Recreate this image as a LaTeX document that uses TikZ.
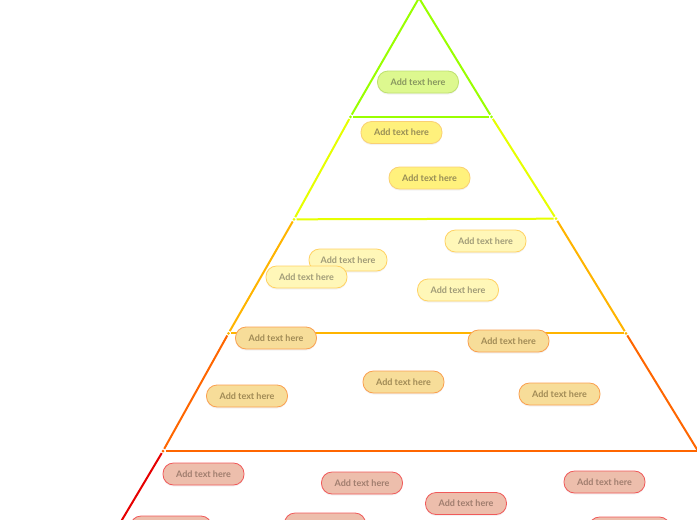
\documentclass[tikz,border=0pt]{standalone}
\usepackage{fontspec}
\setmainfont{Lato}
\usetikzlibrary{shadows}
\definecolor{lineone}{HTML}{99FF00}
\definecolor{linetwo}{HTML}{E6FF00}
\definecolor{linethree}{HTML}{FFB400}
\definecolor{linefour}{HTML}{FF6600}
\definecolor{linefive}{HTML}{E60000}
\tikzset{
    bubble/.style={draw, line width=0.8pt, rounded corners=10.5pt, minimum width=81pt,
        minimum height=22pt, inner sep=0pt, font=\fontsize{9}{11}\selectfont\bfseries,
        drop shadow={shadow xshift=0pt, shadow yshift=-1.5pt, opacity=0.1}},
    bubbleone/.style={bubble, draw=color1b, fill=color1f, text=color1t},
    bubbletwo/.style={bubble, draw=color2b, fill=color2f, text=color2t},
    bubblethree/.style={bubble, draw=color3b, fill=color3f, text=color3t},
    bubblefour/.style={bubble, draw=color4b, fill=color4f, text=color4t},
    bubblefive/.style={bubble, draw=color5b, fill=color5f, text=color5t},
    joint/.style={circle, inner sep=0pt, minimum size=3pt, outer sep=1pt},
    edge/.style={line width=2pt}
}
\definecolor{color1f}{HTML}{DDF88F}
\definecolor{color1b}{HTML}{BEE16E}
\definecolor{color1t}{HTML}{87965F}
\definecolor{color2f}{HTML}{FFF17C}
\definecolor{color2b}{HTML}{FAD072}
\definecolor{color2t}{HTML}{968C55}
\definecolor{color3f}{HTML}{FFF7B8}
\definecolor{color3b}{HTML}{FFD264}
\definecolor{color3t}{HTML}{A09B78}
\definecolor{color4f}{HTML}{F7DD99}
\definecolor{color4b}{HTML}{FAA050}
\definecolor{color4t}{HTML}{A08A55}
\definecolor{color5f}{HTML}{EDBEAC}
\definecolor{color5b}{HTML}{F05A5A}
\definecolor{color5t}{HTML}{A07D6E}

\begin{document}
\begin{tikzpicture}[x=1pt, y=-1pt]
    \useasboundingbox (0,0) rectangle (697,520);

    \coordinate (apex) at (419,-2);
    \node[joint, fill=lineone] (leftone) at (350.5,116.8) {};
    \node[joint, fill=lineone] (rightone) at (491.5,116.8) {};
    \node[joint, fill=linetwo] (lefttwo) at (294,219.3) {};
    \node[joint, fill=linetwo] (righttwo) at (556,218.7) {};
    \node[joint, fill=linethree] (leftthree) at (228.5,333.3) {};
    \node[joint, fill=linethree] (rightthree) at (626,333.3) {};
    \node[joint, fill=linefour] (leftfour) at (163,451) {};
    \coordinate (rightfour) at (698,451);
    \coordinate (leftfive) at (110,540);

    \draw[edge, lineone] (apex) -- (leftone);
    \draw[edge, lineone] (apex) -- (rightone);
    \draw[edge, lineone] (leftone) -- (rightone);
    \draw[edge, linetwo] (leftone) -- (lefttwo);
    \draw[edge, linetwo] (rightone) -- (righttwo);
    \draw[edge, linetwo] (lefttwo) -- (righttwo);
    \draw[edge, linethree] (lefttwo) -- (leftthree);
    \draw[edge, linethree] (righttwo) -- (rightthree);
    \draw[edge, linethree] (leftthree) -- (rightthree);
    \draw[edge, linefour] (leftthree) -- (leftfour);
    \draw[edge, linefour] (rightthree) -- (rightfour);
    \draw[edge, linefour] (leftfour) -- (rightfour);
    \draw[edge, linefive] (leftfour) -- (leftfive);

    \node[bubbleone] (topic) at (418,82) {Add text here};

    \node[bubbletwo] (secondA) at (401.5,132.5) {Add text here};
    \node[bubbletwo] (secondB) at (429.5,178) {Add text here};

    \node[bubblethree] (thirdA) at (485.5,241) {Add text here};
    \node[bubblethree, minimum width=78pt] (thirdB) at (348,260) {Add text here};
    \node[bubblethree] (thirdC) at (306.5,277) {Add text here};
    \node[bubblethree] (thirdD) at (458,290) {Add text here};

    \node[bubblefour] (fourthA) at (276,338) {Add text here};
    \node[bubblefour] (fourthB) at (508.5,341) {Add text here};
    \node[bubblefour] (fourthC) at (403.5,382) {Add text here};
    \node[bubblefour] (fourthD) at (247,396) {Add text here};
    \node[bubblefour] (fourthE) at (559.5,394) {Add text here};

    \node[bubblefive] (fifthA) at (203.5,474) {Add text here};
    \node[bubblefive] (fifthB) at (362,483) {Add text here};
    \node[bubblefive] (fifthC) at (466,503.5) {Add text here};
    \node[bubblefive] (fifthD) at (604.5,482) {Add text here};
    \node[bubblefive] (fifthE) at (171,527) {Add text here};
    \node[bubblefive] (fifthF) at (325,524) {Add text here};
    \node[bubblefive] (fifthG) at (629.5,528) {Add text here};
\end{tikzpicture}
\end{document}
